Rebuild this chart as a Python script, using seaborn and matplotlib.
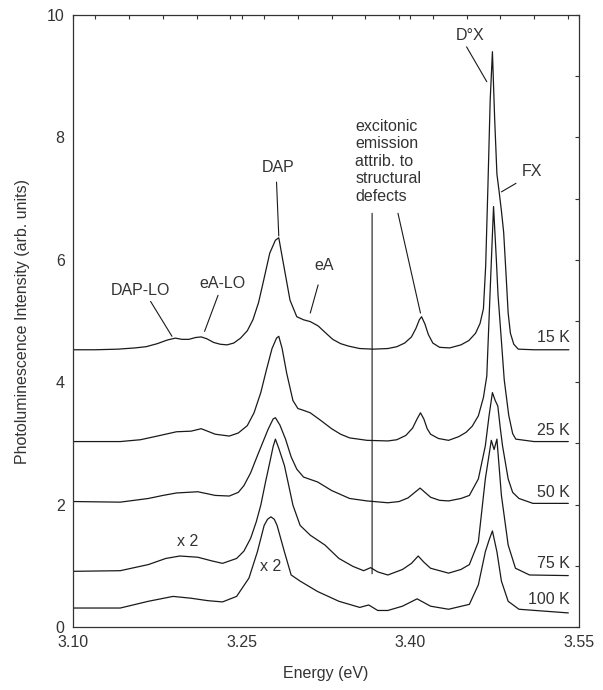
import matplotlib
matplotlib.use('Agg')
import numpy as np
import pandas as pd
import seaborn as sns
import matplotlib.pyplot as plt
from matplotlib.ticker import MultipleLocator, FormatStrFormatter

# ---------------- data ----------------
E_15K = [3.100, 3.120, 3.140, 3.155, 3.165, 3.175, 3.184, 3.191, 3.197, 3.203, 3.209, 3.214,
         3.219, 3.225, 3.231, 3.237, 3.243, 3.249, 3.255, 3.260, 3.265, 3.269, 3.275, 3.280,
         3.283, 3.287, 3.293, 3.299, 3.305, 3.311, 3.318, 3.325, 3.331, 3.338, 3.345, 3.355,
         3.367, 3.380, 3.388, 3.395, 3.401, 3.405, 3.408, 3.410, 3.413, 3.416, 3.420, 3.426,
         3.435, 3.445, 3.452, 3.458, 3.462, 3.465, 3.467, 3.469, 3.471, 3.473, 3.475, 3.477,
         3.479, 3.481, 3.483, 3.485, 3.487, 3.489, 3.492, 3.496, 3.510, 3.541]
I_15K = [4.53, 4.53, 4.54, 4.56, 4.58, 4.63, 4.69, 4.72, 4.70, 4.70, 4.73, 4.74,
         4.71, 4.65, 4.62, 4.61, 4.64, 4.72, 4.84, 5.02, 5.30, 5.62, 6.11, 6.32,
         6.36, 5.95, 5.34, 5.07, 5.02, 4.99, 4.92, 4.80, 4.70, 4.63, 4.59, 4.55,
         4.54, 4.55, 4.58, 4.64, 4.74, 4.88, 5.02, 5.07, 4.95, 4.78, 4.64, 4.57,
         4.56, 4.61, 4.68, 4.80, 4.96, 5.20, 5.90, 7.20, 8.60, 9.40, 8.30, 7.40,
         7.11, 6.80, 6.45, 5.80, 5.13, 4.80, 4.62, 4.54, 4.53, 4.53]

E_25K = [3.101, 3.142, 3.160, 3.175, 3.192, 3.205, 3.214, 3.221, 3.2265, 3.239, 3.247, 3.255,
         3.261, 3.267, 3.272, 3.277, 3.281, 3.283, 3.286, 3.290, 3.2956, 3.300, 3.305, 3.311,
         3.320, 3.330, 3.338, 3.346, 3.3615, 3.380, 3.388, 3.396, 3.402, 3.406, 3.409, 3.412,
         3.415, 3.418, 3.425, 3.434, 3.443, 3.4495, 3.455, 3.4605, 3.465, 3.468, 3.471, 3.474,
         3.4765, 3.478, 3.4805, 3.4835, 3.4875, 3.491, 3.4938, 3.510, 3.5405]
I_25K = [3.03, 3.03, 3.06, 3.12, 3.19, 3.20, 3.24, 3.19, 3.15, 3.12, 3.17, 3.29,
         3.50, 3.83, 4.20, 4.55, 4.72, 4.75, 4.55, 4.15, 3.70, 3.57, 3.54, 3.50,
         3.38, 3.24, 3.15, 3.09, 3.05, 3.04, 3.06, 3.13, 3.25, 3.40, 3.50, 3.40,
         3.24, 3.15, 3.08, 3.05, 3.11, 3.18, 3.28, 3.45, 3.75, 4.10, 5.50, 6.87,
         6.00, 5.42, 4.80, 4.04, 3.46, 3.16, 3.07, 3.03, 3.03]

E_50K = [3.101, 3.142, 3.167, 3.180, 3.192, 3.211, 3.2265, 3.239, 3.247, 3.252, 3.258, 3.264,
         3.2735, 3.278, 3.280, 3.284, 3.289, 3.294, 3.299, 3.305, 3.3175, 3.330, 3.346, 3.3615,
         3.380, 3.390, 3.398, 3.404, 3.4087, 3.413, 3.418, 3.426, 3.434, 3.445, 3.4525, 3.4605,
         3.4667, 3.470, 3.473, 3.4755, 3.4778, 3.480, 3.482, 3.487, 3.491, 3.4966, 3.509, 3.5405]
I_50K = [2.05, 2.04, 2.10, 2.15, 2.19, 2.21, 2.15, 2.14, 2.20, 2.31, 2.52, 2.80,
         3.23, 3.40, 3.42, 3.30, 3.07, 2.78, 2.58, 2.45, 2.37, 2.23, 2.10, 2.06,
         2.03, 2.05, 2.11, 2.20, 2.27, 2.20, 2.12, 2.07, 2.06, 2.10, 2.15, 2.42,
         2.96, 3.45, 3.83, 3.70, 3.61, 3.25, 2.96, 2.42, 2.20, 2.10, 2.02, 2.02]

E_75K = [3.101, 3.142, 3.167, 3.1825, 3.195, 3.211, 3.2235, 3.233, 3.2455, 3.252, 3.258, 3.263,
         3.267, 3.271, 3.275, 3.278, 3.280, 3.283, 3.288, 3.292, 3.2956, 3.302, 3.311, 3.324,
         3.3365, 3.349, 3.3585, 3.3647, 3.371, 3.380, 3.393, 3.401, 3.407, 3.412, 3.418, 3.434,
         3.445, 3.4525, 3.4605, 3.4667, 3.472, 3.4745, 3.477, 3.481, 3.487, 3.4935, 3.506, 3.5405]
I_75K = [0.91, 0.92, 1.02, 1.12, 1.16, 1.14, 1.08, 1.04, 1.12, 1.24, 1.45, 1.72,
         1.99, 2.35, 2.69, 2.95, 3.07, 2.92, 2.64, 2.30, 1.99, 1.66, 1.50, 1.34,
         1.12, 0.99, 0.92, 0.97, 0.90, 0.85, 0.94, 1.04, 1.16, 1.06, 0.96, 0.88,
         0.94, 1.02, 1.39, 2.42, 3.05, 2.90, 3.07, 2.15, 1.34, 0.96, 0.85, 0.84]

E_100K = [3.101, 3.142, 3.167, 3.189, 3.205, 3.220, 3.233, 3.2455, 3.2565, 3.264, 3.270, 3.273,
          3.276, 3.279, 3.2815, 3.288, 3.294, 3.302, 3.3175, 3.3365, 3.355, 3.363, 3.371, 3.380,
          3.393, 3.406, 3.418, 3.434, 3.4525, 3.4605, 3.4667, 3.470, 3.473, 3.477, 3.481, 3.487,
          3.4966, 3.5405]
I_100K = [0.31, 0.31, 0.42, 0.50, 0.47, 0.43, 0.41, 0.50, 0.80, 1.23, 1.66, 1.76,
          1.80, 1.76, 1.66, 1.23, 0.85, 0.75, 0.58, 0.42, 0.32, 0.36, 0.27, 0.27,
          0.34, 0.46, 0.34, 0.29, 0.37, 0.69, 1.23, 1.42, 1.57, 1.23, 0.75, 0.42,
          0.29, 0.23]

temps = ['15 K', '25 K', '50 K', '75 K', '100 K']
energies = [E_15K, E_25K, E_50K, E_75K, E_100K]
intensities = [I_15K, I_25K, I_50K, I_75K, I_100K]
temp_label_y = [4.73, 3.21, 2.19, 1.04, 0.45]

x_ticks = [3.10, 3.25, 3.40, 3.55]
y_ticks = [0, 2, 4, 6, 8, 10]

# peak labels: text, text position, line start, line end
peak_labels = ['DAP-LO', 'eA-LO', 'DAP', 'eA', 'D°X', 'FX']
peak_text_xy = [(3.160, 5.50), (3.233, 5.62), (3.2824, 7.50), (3.323, 5.90), (3.453, 9.67), (3.508, 7.44)]
peak_line_from = [(3.169, 5.32), (3.229, 5.42), (3.281, 7.27), (3.318, 5.59), (3.450, 9.48), (3.494, 7.25)]
peak_line_to = [(3.188, 4.75), (3.217, 4.83), (3.283, 6.39), (3.311, 5.13), (3.468, 8.91), (3.481, 7.11)]

defect_text = 'excitonic\nemission\nattrib. to\nstructural\ndefects'
defect_text_xy = (3.351, 8.30)
defect_lines = [((3.366, 6.76), (3.366, 0.87)), ((3.389, 6.76), (3.409, 5.13))]

x2_labels = ['x 2', 'x 2']
x2_xy = [(3.202, 1.39), (3.276, 0.99)]

# ---------------- plotting ----------------
sns.set_style('white')
plt.rcParams['font.family'] = ['Liberation Sans', 'DejaVu Sans']
txt_col = '#333333'
line_col = '#1a1a1a'
fs = 11.5

rows = []
for t, e, i in zip(temps, energies, intensities):
    for ee, ii in zip(e, i):
        rows.append((t, ee, ii))
df = pd.DataFrame(rows, columns=['T', 'Energy', 'Intensity'])

fig = plt.figure(figsize=(6.03, 6.90), dpi=100)
ax = fig.add_axes([73 / 603, 1 - 627 / 690, 506 / 603, 612 / 690])

sns.lineplot(data=df, x='Energy', y='Intensity', units='T', estimator=None, sort=False,
             color=line_col, lw=0.9, ax=ax, legend=False)

ax.set_xlim(3.10, 3.55)
ax.set_ylim(0, 10)
ax.xaxis.set_major_locator(plt.FixedLocator(x_ticks))
ax.xaxis.set_minor_locator(MultipleLocator(0.03))
ax.yaxis.set_major_locator(plt.FixedLocator(y_ticks))
ax.yaxis.set_minor_locator(MultipleLocator(1))
ax.xaxis.set_major_formatter(FormatStrFormatter('%.2f'))
ax.tick_params(which='both', direction='in', top=True, right=True, length=3, width=0.8,
               color='#333333', labelsize=fs, labelcolor=txt_col, pad=6)
for s in ax.spines.values():
    s.set_color('#333333')
    s.set_linewidth(0.9)

ax.set_xlabel('Energy (eV)', fontsize=fs, color=txt_col, labelpad=11)
ax.set_ylabel('Photoluminescence Intensity (arb. units)', fontsize=fs, color=txt_col, labelpad=12)

for t, y in zip(temps, temp_label_y):
    ax.text(3.542, y, t, ha='right', va='center', fontsize=fs, color=txt_col)

for lab, (tx, ty), p0, p1 in zip(peak_labels, peak_text_xy, peak_line_from, peak_line_to):
    ax.text(tx, ty, lab, ha='center', va='center', fontsize=fs, color=txt_col)
    ax.annotate('', xy=p1, xytext=p0,
                arrowprops=dict(arrowstyle='-', color=line_col, lw=0.8, shrinkA=0, shrinkB=0))

ax.text(defect_text_xy[0], defect_text_xy[1], defect_text, ha='left', va='top',
        fontsize=fs, color=txt_col, linespacing=1.2)
for p0, p1 in defect_lines:
    ax.annotate('', xy=p1, xytext=p0,
                arrowprops=dict(arrowstyle='-', color=line_col, lw=0.8, shrinkA=0, shrinkB=0))

for lab, (tx, ty) in zip(x2_labels, x2_xy):
    ax.text(tx, ty, lab, ha='center', va='center', fontsize=fs, color=txt_col)

fig.savefig('out.png', dpi=100)
